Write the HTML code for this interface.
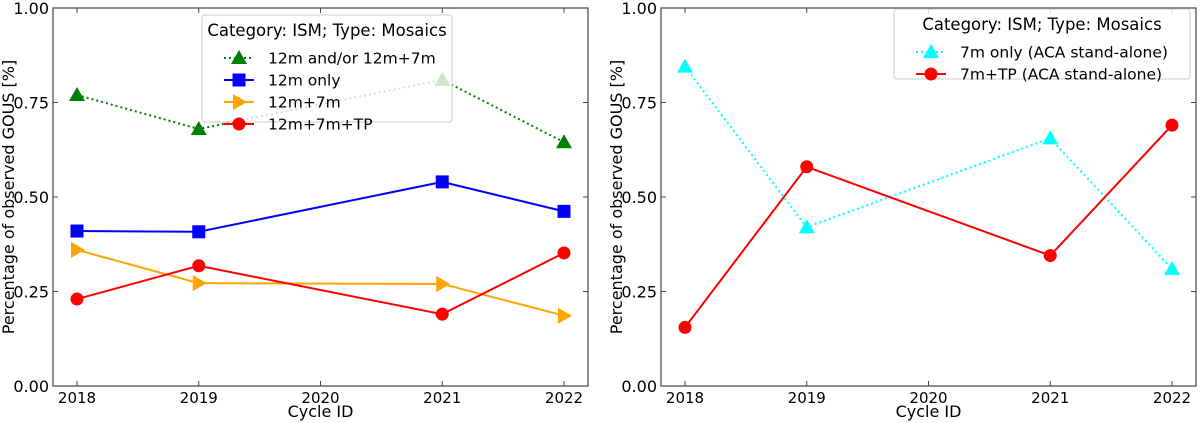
<!DOCTYPE html>
<html><head><meta charset="utf-8"><style>
body{margin:0;background:#fff;}
svg{display:block;font-family:"DejaVu Sans","Liberation Sans",sans-serif;}
</style></head><body>
<svg id="chart" width="1200" height="423"></svg>
<script>
const years=[2018,2019,2020,2021,2022];
const cycles=[2018,2019,2021,2022];
const yTicks=[0,0.25,0.5,0.75,1.0];
const yTickLabels=["0.00","0.25","0.50","0.75","1.00"];
const leftGreen=[0.77,0.68,0.81,0.645];
const leftBlue=[0.41,0.408,0.54,0.462];
const leftOrange=[0.36,0.272,0.27,0.186];
const leftRed=[0.23,0.318,0.19,0.352];
const rightCyan=[0.845,0.42,0.655,0.31];
const rightRed=[0.155,0.58,0.345,0.69];
const NS="http://www.w3.org/2000/svg";
const svg=document.getElementById('chart');
function mk(tag,attrs,parent){const e=document.createElementNS(NS,tag);for(const k in attrs)e.setAttribute(k,attrs[k]);(parent||svg).appendChild(e);return e;}
function marker(g,type,x,y,color){
 let m;
 if(type==='tri') m=mk('polygon',{points:`${x},${y-8} ${x-8},${y+6} ${x+8},${y+6}`,fill:color},g);
 else if(type==='sq') m=mk('rect',{x:x-6.5,y:y-6.5,width:13,height:13,fill:color},g);
 else if(type==='right') m=mk('polygon',{points:`${x+8},${y} ${x-6},${y-8} ${x-6},${y+8}`,fill:color},g);
 else m=mk('circle',{cx:x,cy:y,r:6.5,fill:color},g);
 return m;
}
function panel(name,x0,x1,y0,y1,series,legendBox){
 const X=v=>x0+24+(v-2018)*(x1-x0-48)/4;
 const Y=v=>y1-v*(y1-y0);
 const g=mk('g',{});
 
 
 series.forEach(s=>{
  const sg=mk('g',{},g);
  
  
  const pts=cycles.map((c,i)=>X(c)+','+Y(s.vals[i])).join(' ');
  mk('polyline',{points:pts,fill:'none',stroke:s.color,'stroke-width':2,'stroke-dasharray':s.dash||''},sg);
  cycles.forEach((c,i)=>{const m=marker(sg,s.mk,X(c),Y(s.vals[i]),s.color);
   
   });
 });
 mk('rect',{x:x0,y:y0,width:x1-x0,height:y1-y0,fill:'none',stroke:'#444','stroke-width':1.2},g);
 years.forEach(yv=>{
  mk('line',{x1:X(yv),x2:X(yv),y1:y1,y2:y1-5,stroke:'#444'},g);
  mk('line',{x1:X(yv),x2:X(yv),y1:y0,y2:y0+5,stroke:'#444'},g);
  const t=mk('text',{x:X(yv),y:y1+17,'text-anchor':'middle','font-size':15},g);t.textContent=yv;
  
  
 });
 yTicks.forEach((v,i)=>{
  mk('line',{x1:x0,x2:x0+5,y1:Y(v),y2:Y(v),stroke:'#444'},g);
  mk('line',{x1:x1,x2:x1-5,y1:Y(v),y2:Y(v),stroke:'#444'},g);
  const t=mk('text',{x:x0-4,y:Y(v)+6,'text-anchor':'end','font-size':16},g);t.textContent=yTickLabels[i];
  
  
 });
 const xt=mk('text',{x:(x0+x1)/2,y:417,'text-anchor':'middle','font-size':16},g);xt.textContent='Cycle ID';
 
 
 const yt=mk('text',{x:0,y:0,'text-anchor':'middle','font-size':16,transform:`translate(${x0-39},${(y0+y1)/2}) rotate(-90)`},g);yt.textContent='Percentage of observed GOUS [%]';
 
 
 const lg=mk('g',{},g);
 
 
 const [lx,ly,lw,lh]=legendBox;
 mk('rect',{x:lx,y:ly,width:lw,height:lh,fill:'#fff','fill-opacity':0.8,stroke:'#ccc',rx:3},lg);
 const lt=mk('text',{x:lx+lw/2,y:ly+21,'text-anchor':'middle','font-size':16.5},lg);lt.textContent='Category: ISM; Type: Mosaics';
 series.forEach((s,i)=>{
  const yy=ly+43+i*22;
  const e=mk('g',{},lg);
  
  
  mk('line',{x1:lx+22,x2:lx+52,y1:yy,y2:yy,stroke:s.color,'stroke-width':2,'stroke-dasharray':s.dash||''},e);
  marker(e,s.mk,lx+37,yy,s.color);
  const t=mk('text',{x:lx+66,y:yy+5.5,'font-size':15.5},e);t.textContent=s.label;
 });
}
panel('left-panel',53,588,8,386,[
 {name:'series-12m-and-or',label:'12m and/or 12m+7m',vals:leftGreen,color:'#008000',mk:'tri',dash:'2,3'},
 {name:'series-12m-only',label:'12m only',vals:leftBlue,color:'#0000ff',mk:'sq'},
 {name:'series-12m-7m',label:'12m+7m',vals:leftOrange,color:'#ffa500',mk:'right'},
 {name:'series-12m-7m-tp',label:'12m+7m+TP',vals:leftRed,color:'#ff0000',mk:'circ'}
],[202,15,250,107]);
panel('right-panel',661,1196,8,386,[
 {name:'series-7m-only',label:'7m only (ACA stand-alone)',vals:rightCyan,color:'#00ffff',mk:'tri',dash:'2,3'},
 {name:'series-7m-tp',label:'7m+TP (ACA stand-alone)',vals:rightRed,color:'#ff0000',mk:'circ'}
],[894,9,296,70]);
</script>
</body></html>
